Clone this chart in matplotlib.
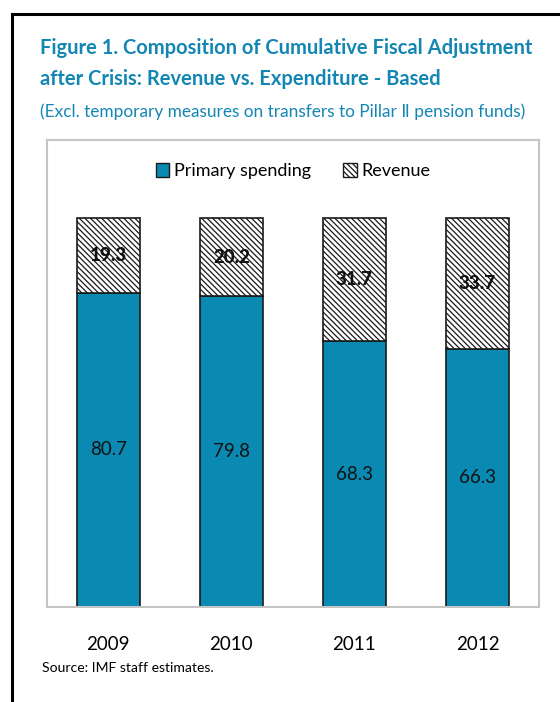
import matplotlib.pyplot as plt
from matplotlib.lines import Line2D
from matplotlib.patches import Patch

# Data
years = ["2009", "2010", "2011", "2012"]
primary_spending = [80.7, 79.8, 68.3, 66.3]
revenue = [19.3, 20.2, 31.7, 33.7]

teal = "#0a8ab2"
title_color = "#1386b4"
hatch = "\\" * 6

plt.rcParams["font.family"] = ["Lato", "DejaVu Sans"]
plt.rcParams["hatch.color"] = "#3a3a3a"
plt.rcParams["hatch.linewidth"] = 0.9

fig = plt.figure(figsize=(5.6, 7.02), dpi=100)
W, H = 560, 702
renderer = fig.canvas.get_renderer()


def fit_width(text_obj, width_px):
    # shrink or grow the font so the text spans the given pixel width
    bbox = text_obj.get_window_extent(renderer=renderer)
    text_obj.set_fontsize(text_obj.get_fontsize() * width_px / bbox.width)


# Outer frame (left and top edges)
fig.add_artist(Line2D([12 / W, 12 / W], [0, 1 - 14 / H], color="black", lw=2.2,
                      transform=fig.transFigure))
fig.add_artist(Line2D([12 / W, 1], [1 - 14 / H, 1 - 14 / H], color="black", lw=2.2,
                      transform=fig.transFigure))

# Titles
t1 = fig.text(40 / W, 1 - 48 / H, "Figure 1. Composition of Cumulative Fiscal Adjustment",
              color=title_color, fontsize=15, fontweight="bold", va="center", ha="left")
t2 = fig.text(40 / W, 1 - 79 / H, "after Crisis: Revenue vs. Expenditure - Based",
              color=title_color, fontsize=15, fontweight="bold", va="center", ha="left")
t3 = fig.text(40 / W, 1 - 112 / H,
              "(Excl. temporary measures on transfers to Pillar \u2161 pension funds)",
              color=title_color, fontsize=12, va="center", ha="left")
fit_width(t1, 493)
t2.set_fontsize(t1.get_fontsize())
fit_width(t3, 483)

# Plot area
left, right, top, bottom = 46.7, 539, 140, 607
ax = fig.add_axes([left / W, 1 - bottom / H, (right - left) / W, (bottom - top) / H])

x = range(len(years))
ax.bar(x, primary_spending, width=0.51, color=teal, edgecolor="#1a1a1a", linewidth=1.2,
       label="Primary spending")
ax.bar(x, revenue, width=0.51, bottom=primary_spending, color="white",
       edgecolor="#1a1a1a", linewidth=1.2, hatch=hatch, label="Revenue")

for i in x:
    ax.text(i, primary_spending[i] / 2, f"{primary_spending[i]:.1f}",
            ha="center", va="center", fontsize=13.5, color="#111111")
    ax.text(i, primary_spending[i] + revenue[i] / 2, f"{revenue[i]:.1f}",
            ha="center", va="center", fontsize=13.5, fontweight="black", color="#111111")

ax.set_xlim(-0.5, 3.5)
ax.set_ylim(0, 120)
ax.set_yticks([])
ax.set_xticks(list(x))
ax.set_xticklabels(years, fontsize=13.5)
ax.tick_params(axis="x", length=0, pad=21)
for spine in ax.spines.values():
    spine.set_color("#c4c4c4")
    spine.set_linewidth(1.5)

handles = [Patch(facecolor=teal, edgecolor="#1a1a1a", label="Primary spending"),
           Patch(facecolor="white", edgecolor="#1a1a1a", hatch=hatch, label="Revenue")]
ax.legend(handles=handles, loc="upper center", bbox_to_anchor=(0.5, 0.985), ncol=2,
          frameon=False, fontsize=13, handlelength=0.75, handleheight=0.8,
          handletextpad=0.25, columnspacing=1.8)

src = fig.text(42 / W, 1 - 668 / H, "Source: IMF staff estimates.", fontsize=10.5,
               va="center", ha="left")
fit_width(src, 173)

fig.savefig("out.png", dpi=100)
